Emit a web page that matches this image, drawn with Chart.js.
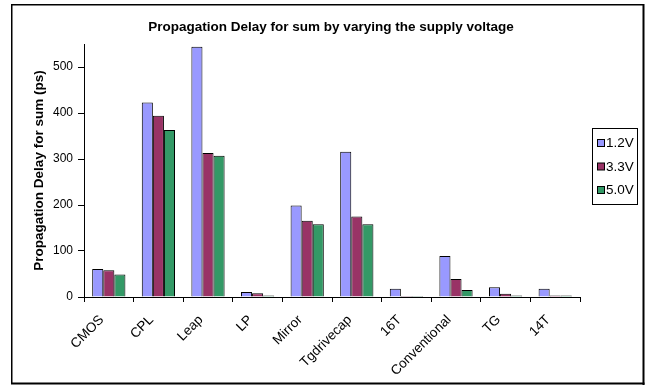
<!DOCTYPE html>
<html>
<head>
<meta charset="utf-8">
<title>Propagation Delay for sum by varying the supply voltage</title>
<script src="https://cdn.jsdelivr.net/npm/chart.js@4/dist/chart.umd.min.js"></script>
<style>
  html, body { margin: 0; padding: 0; background: #fff; }
  #wrap { width: 646px; height: 385px; position: relative; }
</style>
</head>
<body>
<div id="wrap"><canvas id="chart" width="646" height="385"></canvas></div>
<script>
// Adder designs and their sum-output delay (ps) at each supply voltage
const categories = ['CMOS', 'CPL', 'Leap', 'LP', 'Mirror', 'Tgdrivecap', '16T', 'Conventional', 'TG', '14T'];
const seriesNames = ['1.2V', '3.3V', '5.0V'];
const delay12V = [61, 423, 544, 11, 199, 316, 18, 89, 21, 18];
const delay33V = [58, 394, 313, 8, 166, 175, 2, 39, 7, 3];
const delay50V = [49, 363, 307, 3, 158, 158, 2, 15, 3, 3];
const yTickValues = [0, 100, 200, 300, 400, 500];
const yMax = 550;

const chartTitle = 'Propagation Delay for sum by varying the supply voltage';
const yTitle = 'Propagation Delay for sum (ps)';
const seriesColors = ['#9999FF', '#993366', '#339966'];
const FONT = "'Liberation Sans', Arial, sans-serif";

// White page with a framed border and a heavier right/bottom edge
const framePlugin = {
  id: 'frame',
  beforeDraw(chart) {
    const ctx = chart.ctx;
    ctx.save();
    ctx.fillStyle = '#fff';
    ctx.fillRect(0, 0, chart.width, chart.height);
    ctx.fillStyle = '#000';
    ctx.fillRect(11, 4, 633, 1.5);
    ctx.fillRect(11, 4, 1.5, 380);
    ctx.fillRect(642.5, 4, 2, 381);
    ctx.fillRect(11, 382.5, 633.5, 2);
    ctx.restore();
  }
};

// Chart heading
const headingPlugin = {
  id: 'heading',
  afterDraw(chart) {
    const ctx = chart.ctx;
    ctx.save();
    ctx.font = 'bold 13.5px ' + FONT;
    ctx.fillStyle = '#000';
    ctx.textAlign = 'center';
    ctx.textBaseline = 'middle';
    ctx.fillText(chartTitle, 331, 27);
    ctx.restore();
  }
};

// Boxed legend on the right side
const boxLegendPlugin = {
  id: 'boxLegend',
  afterDraw(chart) {
    const ctx = chart.ctx;
    const x0 = 592.5, y0 = 128.5, w = 45, h = 76;
    ctx.save();
    ctx.fillStyle = '#fff';
    ctx.fillRect(x0, y0, w, h);
    ctx.strokeStyle = '#000';
    ctx.lineWidth = 1;
    ctx.strokeRect(x0, y0, w, h);
    ctx.font = '13.5px ' + FONT;
    ctx.textAlign = 'left';
    ctx.textBaseline = 'middle';
    chart.data.datasets.forEach((ds, i) => {
      const cy = 143 + i * 23.5;
      ctx.fillStyle = ds.backgroundColor;
      ctx.fillRect(597.5, cy - 3.5, 7, 7);
      ctx.strokeStyle = '#000';
      ctx.strokeRect(597.5, cy - 3.5, 7, 7);
      ctx.fillStyle = '#000';
      ctx.fillText(ds.label, 606, cy + 0.5);
    });
    ctx.restore();
  }
};

const seriesValues = [delay12V, delay33V, delay50V];

new Chart(document.getElementById('chart'), {
  type: 'bar',
  data: {
    labels: categories,
    datasets: seriesNames.map((name, i) => ({
      label: name,
      data: seriesValues[i],
      backgroundColor: seriesColors[i],
      borderColor: '#000',
      borderWidth: 1,
      categoryPercentage: 0.67,
      barPercentage: 1.0
    }))
  },
  options: {
    responsive: false,
    animation: false,
    devicePixelRatio: 1,
    layout: { padding: { top: 44, right: 66, left: 0, bottom: 0 } },
    plugins: {
      legend: { display: false },
      title: { display: false },
      tooltip: { enabled: false }
    },
    scales: {
      x: {
        grid: {
          offset: true,
          drawOnChartArea: false,
          drawTicks: true,
          tickLength: 5,
          color: '#000'
        },
        border: { color: '#000', width: 1 },
        ticks: {
          color: '#000',
          font: { family: FONT, size: 13.5 },
          minRotation: 45,
          maxRotation: 45,
          autoSkip: false,
          padding: 10,
          labelOffset: -7
        },
        afterFit(scale) { scale.height = 88; }
      },
      y: {
        min: 0,
        max: yMax,
        grid: {
          drawOnChartArea: false,
          drawTicks: true,
          tickLength: 6,
          color: '#000'
        },
        border: { color: '#000', width: 1 },
        afterBuildTicks(scale) {
          scale.ticks = yTickValues.map(v => ({ value: v }));
        },
        ticks: {
          color: '#000',
          font: { family: FONT, size: 12 },
          padding: 5
        },
        title: {
          display: true,
          text: yTitle,
          color: '#000',
          font: { family: FONT, size: 13.5, weight: 'bold' },
          padding: { top: 31, bottom: 0 }
        },
        afterFit(scale) { scale.width = 84; }
      }
    }
  },
  plugins: [framePlugin, headingPlugin, boxLegendPlugin]
});
</script>
</body>
</html>
